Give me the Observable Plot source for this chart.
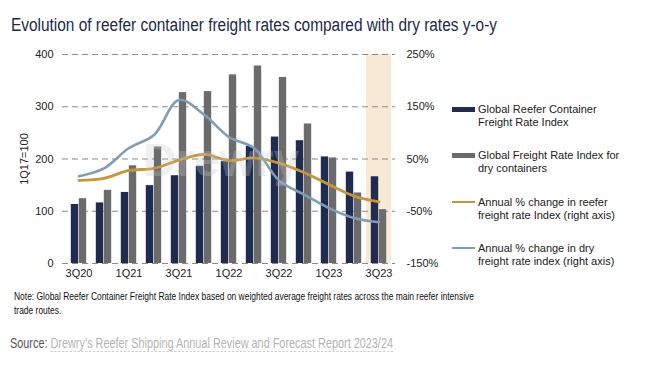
<!DOCTYPE html>
<html><head><meta charset="utf-8">
<script src="https://cdn.jsdelivr.net/npm/d3@7"></script>
<script src="https://cdn.jsdelivr.net/npm/@observablehq/plot@0.6"></script>
<style>
body{margin:0;background:#fff;font-family:"Liberation Sans",Arial,sans-serif;}
#wrap{position:relative;width:668px;height:376px;overflow:hidden;background:#fff;}
.fit{position:absolute;white-space:nowrap;transform-origin:0 50%;}
#title{left:11px;top:14px;font-size:18px;color:#1b2a47;line-height:22px;}
#chart{position:absolute;left:0;top:42px;}
.sw{position:absolute;left:452px;width:23px;}
.lt{position:absolute;left:478px;font-size:11px;line-height:13px;color:#222;white-space:nowrap;}
.note{left:14px;font-size:10.5px;line-height:13px;color:#111;}
#source{left:10px;top:335px;font-size:14px;line-height:16px;color:#555;}
#source span{color:#b5b5b5;border-bottom:1px dashed #c8c8c8;}
</style></head>
<body><div id="wrap">
<div id="title" class="fit">Evolution of reefer container freight rates compared with dry rates y-o-y</div>
<div id="chart"></div>
<div id="legend"></div>
<div id="note1" class="fit note" style="top:290px">Note: Global Reefer Container Freight Rate Index based on weighted average freight rates across the main reefer intensive</div>
<div id="note2" class="fit note" style="top:303.5px">trade routes.</div>
<div id="source" class="fit">Source: <span>Drewry’s Reefer Shipping Annual Review and Forecast Report 2023/24</span></div>
</div>
<script>
const quarters = ["3Q20","4Q20","1Q21","2Q21","3Q21","4Q21","1Q22","2Q22","3Q22","4Q22","1Q23","2Q23","3Q23"];
const reeferIndex = [113,116,136,149,168,186,195,224,242,235,204,175,166];
const dryIndex = [124,140,187,223,327,329,361,378,356,267,202,135,103];
const reeferPct = [9,13,28,32,48,59,47,52,42,24,1,-21,-32];
const dryPct = [17,32,71,96,163,135,92,71,9,-18,-44,-63,-71];
const xTickLabels = ["3Q20","1Q21","3Q21","1Q22","3Q22","1Q23","3Q23"];
const leftTicks = [0,100,200,300,400];
const rightOffset = 150; // right axis (%) = left value - 150
const highlighted = ["3Q23"];
const seriesNames = ["Global Reefer Container\nFreight Rate Index","Global Freight Rate Index for\ndry containers","Annual % change in reefer\nfreight rate Index (right axis)","Annual % change in dry\nfreight rate index (right axis)"];

const navy = "#1f2c50", gray = "#6b6b6b", gold = "#c4973c", blue = "#7f9db5", beige = "#f8e9d4";

const data = quarters.map((q,i)=>({q, reefer: reeferIndex[i], dry: dryIndex[i], rp: reeferPct[i], dp: dryPct[i]}));

const chart = Plot.plot({
  width: 668, height: 241,
  marginTop: 12, marginBottom: 20, marginLeft: 62, marginRight: 273,
  style: {fontFamily: "Liberation Sans, Arial, sans-serif", fontSize: "11px", color: "#222", background: "transparent"},
  x: {type: "band", domain: quarters, padding: 0},
  y: {domain: [0, 400]},
  marks: [
    Plot.cell(highlighted, {x: d => d, fill: beige}),
    Plot.gridY({ticks: leftTicks, stroke: "#8a8a8a", strokeOpacity: 1, strokeDasharray: "6,4", strokeWidth: 1.2}),
    Plot.barY(data, {x: "q", y: "reefer", fill: navy, insetLeft: 4.8, insetRight: 12.8}),
    Plot.barY(data, {x: "q", y: "dry", fill: gray, insetLeft: 12.8, insetRight: 4.8}),
    Plot.line(data, {x: "q", y: d => d.rp + rightOffset, stroke: gold, strokeWidth: 2.8, curve: "catmull-rom"}),
    Plot.line(data, {x: "q", y: d => d.dp + rightOffset, stroke: blue, strokeWidth: 2.6, curve: "catmull-rom"}),
    Plot.text(["Drewry"], {frameAnchor: "middle", dx: -8, dy: 2, fontSize: 46, fontWeight: "bold", fill: "#c8c8c8", fillOpacity: 0.3}),
    Plot.axisY({anchor: "left", ticks: leftTicks, tickSize: 0, tickPadding: 9, label: "1Q17=100", labelAnchor: "center", labelOffset: 42, labelArrow: "none"}),
    Plot.axisY({anchor: "right", ticks: leftTicks, tickSize: 0, tickPadding: 11, tickFormat: d => (d - rightOffset) + "%", label: null}),
    Plot.axisX({ticks: xTickLabels, tickSize: 0, tickPadding: 6, label: null})
  ]
});
document.getElementById("chart").appendChild(chart);

// legend
const wrap = document.getElementById("wrap");
const legendTops = [103, 149, 195.5, 241.5];
const swatch = [{c: navy, h: 5}, {c: gray, h: 5}, {c: gold, h: 2.8}, {c: blue, h: 2.6}];
seriesNames.forEach((name, i) => {
  const sw = document.createElement("div");
  sw.className = "sw";
  sw.style.background = swatch[i].c;
  sw.style.height = swatch[i].h + "px";
  sw.style.top = (legendTops[i] + 6.5 - swatch[i].h / 2) + "px";
  wrap.appendChild(sw);
  const t = document.createElement("div");
  t.className = "lt";
  t.style.top = legendTops[i] + "px";
  t.innerHTML = name.replace("\n", "<br>");
  wrap.appendChild(t);
});

// condensed text widths
function fit(id, target) {
  const el = document.getElementById(id);
  const w = el.getBoundingClientRect().width;
  const s = target / w;
  el.style.transform = `scaleX(${s})`;
  return s;
}
fit("title", 486);
const s = fit("note1", 460);
document.getElementById("note2").style.transform = `scaleX(${s})`;
fit("source", 383);
</script>
</body></html>
